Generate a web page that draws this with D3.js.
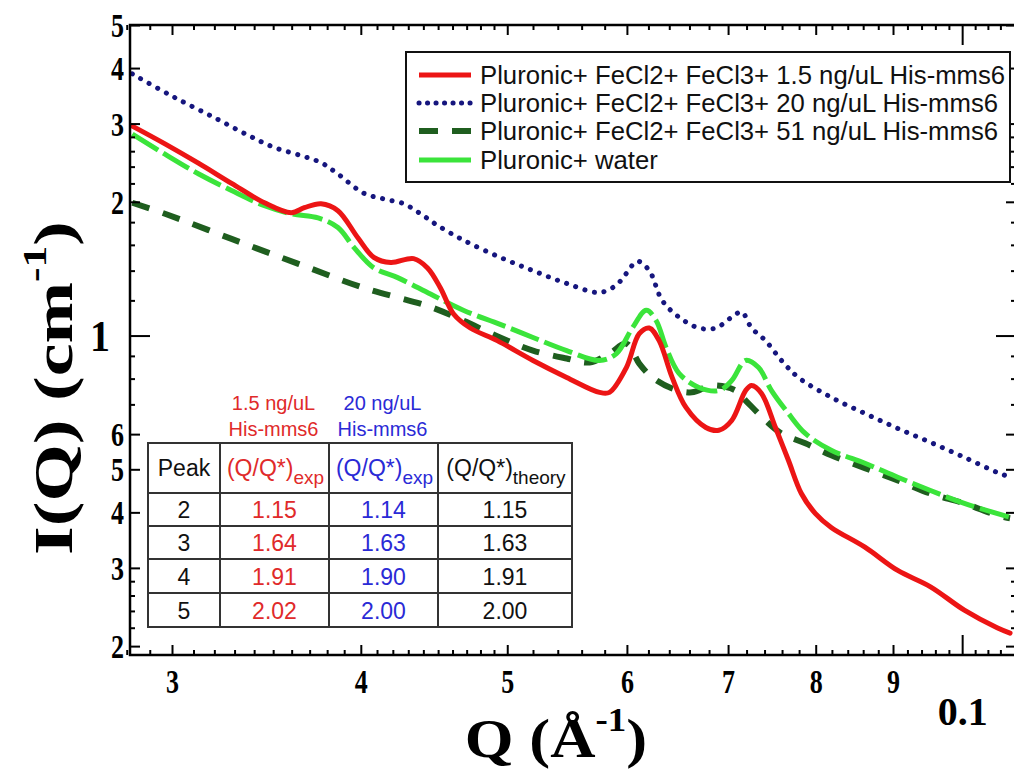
<!DOCTYPE html>
<html>
<head>
<meta charset="utf-8">
<script src="https://cdn.jsdelivr.net/npm/d3@7"></script>
<style>
  body { margin: 0; background: #fff; }
  svg { display: block; }
</style>
</head>
<body>
<svg id="chart"></svg>
<script>
// values (Q in 1/A, I in 1/cm)
const seriesNames = [
    'Pluronic+ FeCl2+ FeCl3+ 1.5 ng/uL His-mms6',
    'Pluronic+ FeCl2+ FeCl3+ 20 ng/uL His-mms6',
    'Pluronic+ FeCl2+ FeCl3+ 51 ng/uL His-mms6',
    'Pluronic+ water'
];

const redQ = [0.02824, 0.02968, 0.03125, 0.03285, 0.03454, 0.03598, 0.03670, 0.03765, 0.03863, 0.03982,
    0.04080, 0.04187, 0.04335, 0.04428, 0.04516, 0.04606, 0.04726, 0.04924, 0.05200, 0.05474,
    0.05755, 0.05843, 0.05995, 0.06114, 0.06208, 0.06302, 0.06428, 0.06565, 0.06767, 0.06902,
    0.07039, 0.07190, 0.07255, 0.07366, 0.07524, 0.07674, 0.07827, 0.07994, 0.08191, 0.08623,
    0.09065, 0.09529, 0.10033, 0.10547, 0.10757];
const redI = [2.96, 2.70, 2.44, 2.20, 1.99, 1.89, 1.94, 1.98, 1.91, 1.66,
    1.50, 1.46, 1.49, 1.42, 1.28, 1.12, 1.04, 0.974, 0.879, 0.805,
    0.745, 0.745, 0.847, 1.01, 1.04, 0.974, 0.805, 0.689, 0.621, 0.612,
    0.644, 0.752, 0.772, 0.741, 0.621, 0.524, 0.441, 0.398, 0.370, 0.334,
    0.296, 0.272, 0.241, 0.220, 0.214];

const blueQ = [0.02824, 0.02854, 0.03014, 0.03202, 0.03371, 0.03507, 0.03653, 0.03765, 0.03863, 0.04019,
    0.04142, 0.04270, 0.04381, 0.04496, 0.04676, 0.04946, 0.05200, 0.05474, 0.05755, 0.05905,
    0.05995, 0.06096, 0.06208, 0.06331, 0.06496, 0.06696, 0.06871, 0.07039, 0.07146, 0.07255,
    0.07411, 0.07593, 0.07791, 0.08191, 0.08623, 0.09065, 0.09529, 0.10033, 0.10547, 0.10757];
const blueI = [3.88, 3.80, 3.43, 3.09, 2.82, 2.65, 2.54, 2.45, 2.31, 2.09,
    2.03, 1.98, 1.88, 1.77, 1.64, 1.50, 1.40, 1.31, 1.25, 1.30,
    1.38, 1.47, 1.40, 1.20, 1.10, 1.04, 1.04, 1.10, 1.13, 1.04,
    0.974, 0.879, 0.805, 0.726, 0.668, 0.618, 0.575, 0.532, 0.492, 0.480];

const darkQ = [0.02824, 0.02968, 0.03285, 0.03637, 0.04019, 0.04448, 0.04676, 0.04946, 0.05200, 0.05474,
    0.05668, 0.05843, 0.05995, 0.06114, 0.06236, 0.06428, 0.06625, 0.06829, 0.07082, 0.07190,
    0.07411, 0.07593, 0.07874, 0.08191, 0.08623, 0.09065, 0.09529, 0.10033, 0.10547, 0.10757];
const darkI = [1.99, 1.88, 1.65, 1.45, 1.28, 1.16, 1.08, 0.990, 0.925, 0.888,
    0.870, 0.911, 0.959, 0.865, 0.805, 0.760, 0.745, 0.772, 0.752, 0.714,
    0.644, 0.602, 0.572, 0.538, 0.503, 0.472, 0.441, 0.419, 0.394, 0.388];

const greenQ = [0.02824, 0.02968, 0.03125, 0.03285, 0.03454, 0.03598, 0.03748, 0.03863, 0.03958, 0.04080,
    0.04231, 0.04448, 0.04676, 0.04946, 0.05200, 0.05474, 0.05755, 0.05905, 0.06050, 0.06179,
    0.06274, 0.06369, 0.06496, 0.06696, 0.06902, 0.07039, 0.07190, 0.07333, 0.07479, 0.07674,
    0.07874, 0.08191, 0.08623, 0.09065, 0.09529, 0.10033, 0.10757];
const greenI = [2.84, 2.56, 2.31, 2.12, 1.96, 1.88, 1.84, 1.75, 1.58, 1.42,
    1.35, 1.24, 1.14, 1.06, 0.990, 0.925, 0.879, 0.911, 1.04, 1.14,
    1.08, 0.940, 0.822, 0.764, 0.752, 0.792, 0.879, 0.847, 0.752, 0.668,
    0.602, 0.552, 0.516, 0.480, 0.448, 0.419, 0.390];

// axis ticks
const xMajorTicks = [0.03, 0.04, 0.05, 0.06, 0.07, 0.08, 0.09];
const xDecadeTicks = [0.1];
const xMinorTicks = [0.028, 0.029, 0.031, 0.032, 0.033, 0.034, 0.035, 0.036, 0.037, 0.038, 0.039,
    0.041, 0.042, 0.043, 0.044, 0.045, 0.046, 0.047, 0.048, 0.049,
    0.052, 0.054, 0.056, 0.058, 0.062, 0.064, 0.066, 0.068, 0.072, 0.074, 0.076, 0.078,
    0.082, 0.084, 0.086, 0.088, 0.092, 0.094, 0.096, 0.098, 0.102, 0.104, 0.106];
const yMajorTicks = [0.2, 0.3, 0.4, 0.5, 0.6, 2, 3, 4, 5];
const yDecadeTicks = [1];
const yMinorTicks = [0.22, 0.24, 0.26, 0.28, 0.7, 0.8, 0.9, 1.2, 1.4, 1.6, 1.8, 2.2, 2.4, 2.6, 2.8];

// inset table
const tableHead = ['Peak', '(Q/Q*)', '(Q/Q*)', '(Q/Q*)'];
const tableSub = ['', 'exp', 'exp', 'theory'];
const tableAbove = [['1.5 ng/uL', 'His-mms6'], ['20 ng/uL', 'His-mms6']];
const tablePeak = ['2', '3', '4', '5'];
const tableRed = ['1.15', '1.64', '1.91', '2.02'];
const tableBlue = ['1.14', '1.63', '1.90', '2.00'];
const tableTheory = ['1.15', '1.63', '1.91', '2.00'];

const W = 1014, H = 770;
const margin = { top: 25, left: 130, right: 1016, bottom: 655 };
const serif = '"Liberation Serif", "Times New Roman", serif';
const sans = '"Liberation Sans", Arial, sans-serif';

const svg = d3.select('#chart').attr('width', W).attr('height', H);
svg.append('rect').attr('width', W).attr('height', H).attr('fill', '#fff');

const x = d3.scaleLog().domain([0.02814, 0.10855]).range([margin.left, margin.right]);
const y = d3.scaleLog().domain([0.191, 5]).range([margin.bottom, margin.top]);

svg.append('clipPath').attr('id', 'clip')
    .append('rect')
    .attr('x', margin.left).attr('y', margin.top)
    .attr('width', margin.right - margin.left).attr('height', margin.bottom - margin.top);

// curves
const line = d3.line()
    .x((d) => x(d[0]))
    .y((d) => y(d[1]))
    .curve(d3.curveCatmullRom.alpha(0.5));

const series = [
    { q: darkQ, v: darkI, color: '#1f5e1f', width: 6, dash: '18,14', cap: 'butt' },
    { q: greenQ, v: greenI, color: '#3be43b', width: 5, dash: '30,6', cap: 'butt' },
    { q: blueQ, v: blueI, color: '#16167e', width: 5, dash: '0.1,9.6', cap: 'round' },
    { q: redQ, v: redI, color: '#ec1515', width: 5, dash: null, cap: 'round' }
];

const gLines = svg.append('g').attr('clip-path', 'url(#clip)');
series.forEach((s) => {
    gLines.append('path')
        .datum(s.q.map((q, i) => [q, s.v[i]]))
        .attr('d', line)
        .attr('fill', 'none')
        .attr('stroke', s.color)
        .attr('stroke-width', s.width)
        .attr('stroke-dasharray', s.dash)
        .attr('stroke-linecap', s.cap)
        .attr('stroke-linejoin', 'round');
});

// axes (ticks point inward)
function drawAxis(axisFn, pos, values, size, fmt) {
    const g = svg.append('g')
        .attr('transform', pos)
        .call(axisFn.tickValues(values).tickSizeInner(size).tickSizeOuter(0).tickFormat(fmt || (() => '')));
    g.select('.domain').remove();
    g.selectAll('.tick line').attr('stroke', '#000').attr('stroke-width', 2);
    return g;
}

const xFmt = (d) => String(Math.round(d * 100));
const yFmt = (d) => (d < 1 ? String(Math.round(d * 10)) : String(d));

const gxMajor = drawAxis(d3.axisBottom(x), `translate(0,${margin.bottom})`, xMajorTicks, -10, xFmt);
drawAxis(d3.axisBottom(x), `translate(0,${margin.bottom})`, xMinorTicks, -5);
const gxDec = drawAxis(d3.axisBottom(x), `translate(0,${margin.bottom})`, xDecadeTicks, -20, () => '0.1');
drawAxis(d3.axisTop(x), `translate(0,${margin.top})`, xMajorTicks, -10);
drawAxis(d3.axisTop(x), `translate(0,${margin.top})`, xMinorTicks, -5);
drawAxis(d3.axisTop(x), `translate(0,${margin.top})`, xDecadeTicks, -20);

const gyMajor = drawAxis(d3.axisLeft(y), `translate(${margin.left},0)`, yMajorTicks, -10, yFmt);
drawAxis(d3.axisLeft(y), `translate(${margin.left},0)`, yMinorTicks, -5);
const gyDec = drawAxis(d3.axisLeft(y), `translate(${margin.left},0)`, yDecadeTicks, -20, yFmt);
drawAxis(d3.axisRight(y), `translate(${margin.right},0)`, yMajorTicks, -10);
drawAxis(d3.axisRight(y), `translate(${margin.right},0)`, yMinorTicks, -5);
drawAxis(d3.axisRight(y), `translate(${margin.right},0)`, yDecadeTicks, -20);

// tall narrow tick digits like the original export
gxMajor.selectAll('.tick text')
    .attr('y', null).attr('dy', null)
    .attr('transform', 'translate(0,38) scale(1,1.3)')
    .style('font', `bold 26px ${serif}`).attr('fill', '#000');
gxDec.selectAll('.tick text')
    .attr('y', null).attr('dy', null)
    .attr('transform', 'translate(0,70)')
    .style('font', `bold 40px ${serif}`).attr('fill', '#000');
gyMajor.selectAll('.tick text')
    .attr('x', -6).attr('dy', null)
    .attr('transform', 'translate(0,11.5) scale(1,1.3)')
    .style('font', `bold 26px ${serif}`).attr('fill', '#000');
gyDec.selectAll('.tick text')
    .attr('x', -20).attr('dy', null)
    .attr('transform', 'translate(0,15) scale(1,1.1)')
    .style('font', `bold 40px ${serif}`).attr('fill', '#000');

// frame
svg.append('path')
    .attr('d', `M${margin.right},${margin.top}H${margin.left}V${margin.bottom}H${margin.right}`)
    .attr('fill', 'none').attr('stroke', '#000').attr('stroke-width', 2.5);

// axis titles
const xTitle = svg.append('text')
    .attr('transform', 'translate(556,757) scale(1.12,1)')
    .attr('text-anchor', 'middle')
    .style('font', `bold 56px ${serif}`);
xTitle.append('tspan').text('Q (\u00c5');
xTitle.append('tspan').attr('dy', -26).style('font-size', '33px').text('-1');
xTitle.append('tspan').attr('dy', 26).text(')');

const yTitle = svg.append('text')
    .attr('transform', 'translate(72,388) rotate(-90) scale(1.32,1)')
    .attr('text-anchor', 'middle')
    .style('font', `bold 56px ${serif}`);
yTitle.append('tspan').text('I(Q) (cm');
yTitle.append('tspan').attr('dy', -26).style('font-size', '33px').text('-1');
yTitle.append('tspan').attr('dy', 26).text(')');

// legend
const legend = svg.append('g');
legend.append('rect')
    .attr('x', 406).attr('y', 52).attr('width', 604).attr('height', 130)
    .attr('fill', '#fff').attr('stroke', '#111').attr('stroke-width', 2);
const legendRows = [75, 103, 131, 160];
const legendStyle = [
    { color: '#ec1515', width: 5, dash: null, cap: 'butt' },
    { color: '#16167e', width: 5, dash: '0.1,8.4', cap: 'round' },
    { color: '#1f5e1f', width: 6, dash: '19,14', cap: 'butt' },
    { color: '#3be43b', width: 5, dash: null, cap: 'butt' }
];
seriesNames.forEach((name, i) => {
    const st = legendStyle[i];
    legend.append('line')
        .attr('x1', 419).attr('x2', 471)
        .attr('y1', legendRows[i]).attr('y2', legendRows[i])
        .attr('stroke', st.color).attr('stroke-width', st.width)
        .attr('stroke-dasharray', st.dash).attr('stroke-linecap', st.cap);
    legend.append('text')
        .attr('x', 480).attr('y', legendRows[i] + 9)
        .style('font', `25.7px ${sans}`).attr('fill', '#111')
        .text(name);
});

// inset table
const colX = [148, 220, 329, 438, 572];
const rowY = [443, 493, 526, 559, 593, 627];
const colColor = ['#111', '#e02a2a', '#2a2ad6', '#111'];
const tbl = svg.append('g');
tbl.append('rect')
    .attr('x', colX[0]).attr('y', rowY[0])
    .attr('width', colX[4] - colX[0]).attr('height', rowY[5] - rowY[0])
    .attr('fill', '#fff').attr('stroke', '#333').attr('stroke-width', 2);
colX.slice(1, 4).forEach((cx) => {
    tbl.append('line').attr('x1', cx).attr('x2', cx).attr('y1', rowY[0]).attr('y2', rowY[5])
        .attr('stroke', '#333').attr('stroke-width', 2);
});
rowY.slice(1, 5).forEach((ry) => {
    tbl.append('line').attr('x1', colX[0]).attr('x2', colX[4]).attr('y1', ry).attr('y2', ry)
        .attr('stroke', '#333').attr('stroke-width', 2);
});
const colMid = (c) => (colX[c] + colX[c + 1]) / 2;

tableHead.forEach((h, c) => {
    const t = tbl.append('text')
        .attr('x', colMid(c) + (c === 0 ? 0 : 1)).attr('y', 476)
        .attr('text-anchor', 'middle')
        .style('font', `23px ${sans}`).attr('fill', colColor[c]);
    t.append('tspan').text(h);
    if (tableSub[c]) {
        t.append('tspan').attr('dy', 8).style('font-size', '19px').text(tableSub[c]);
    }
});

const tableCols = [tablePeak, tableRed, tableBlue, tableTheory];
tableCols.forEach((col, c) => {
    col.forEach((v, r) => {
        tbl.append('text')
            .attr('x', colMid(c)).attr('y', (rowY[r + 1] + rowY[r + 2]) / 2 + 8.5)
            .attr('text-anchor', 'middle')
            .style('font', `23px ${sans}`).attr('fill', colColor[c])
            .text(v);
    });
});

tableAbove.forEach((lines, k) => {
    lines.forEach((txt, j) => {
        tbl.append('text')
            .attr('x', colMid(k + 1) - 1).attr('y', 410 + j * 26)
            .attr('text-anchor', 'middle')
            .style('font', `20px ${sans}`).attr('fill', colColor[k + 1])
            .text(txt);
    });
});
</script>
</body>
</html>
